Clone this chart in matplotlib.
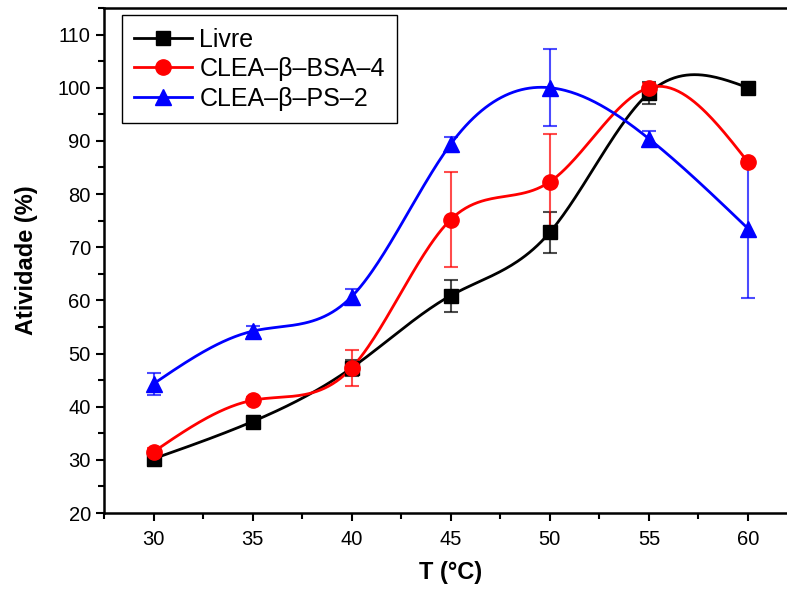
import numpy as np
import matplotlib
matplotlib.use("Agg")
import matplotlib.pyplot as plt
from matplotlib.ticker import MultipleLocator

plt.rcParams['font.family'] = ['Liberation Sans', 'DejaVu Sans']

# dados
temp = [30, 35, 40, 45, 50, 55, 60]
livre = [30.2, 37.2, 47.3, 60.9, 72.8, 99.0, 100.0]
livre_err = [1.3, 1.1, 1.5, 3.0, 3.9, 2.0, 0.5]
bsa = [31.5, 41.2, 47.3, 75.2, 82.3, 100.0, 86.0]
bsa_err = [0.8, 0.6, 3.4, 9.0, 9.0, 0.8, 0.5]
ps = [44.3, 54.2, 60.7, 89.4, 100.0, 90.4, 73.5]
ps_err = [2.1, 1.0, 1.5, 1.4, 7.2, 1.5, 13.1]

labels = ['Livre', 'CLEA\u2013\u03b2\u2013BSA\u20134', 'CLEA\u2013\u03b2\u2013PS\u20132']
colors = ['black', '#ff0000', '#0000ff']
markers = ['s', 'o', '^']
msizes = [10, 11, 12]


# spline cubica natural so para desenhar a linha de ligacao
def natural_spline(x, y, n=300):
    x = np.asarray(x, float)
    y = np.asarray(y, float)
    k = len(x)
    h = np.diff(x)
    A = np.zeros((k, k))
    b = np.zeros(k)
    A[0, 0] = A[-1, -1] = 1
    for i in range(1, k - 1):
        A[i, i - 1] = h[i - 1]
        A[i, i] = 2 * (h[i - 1] + h[i])
        A[i, i + 1] = h[i]
        b[i] = 6 * ((y[i + 1] - y[i]) / h[i] - (y[i] - y[i - 1]) / h[i - 1])
    M = np.linalg.solve(A, b)
    xs = np.linspace(x[0], x[-1], n)
    j = np.clip(np.searchsorted(x, xs) - 1, 0, k - 2)
    t0 = x[j + 1] - xs
    t1 = xs - x[j]
    hj = h[j]
    ys = (M[j] * t0 ** 3 + M[j + 1] * t1 ** 3) / (6 * hj) \
        + (y[j] / hj - M[j] * hj / 6) * t0 + (y[j + 1] / hj - M[j + 1] * hj / 6) * t1
    return xs, ys


fig = plt.figure(figsize=(7.87, 5.90), dpi=100)
ax = fig.add_axes([0.1321, 0.1305, 0.8813, 0.856])

series = [(livre, livre_err), (bsa, bsa_err), (ps, ps_err)]
for (vals, errs), lab, c, m, ms in zip(series, labels, colors, markers, msizes):
    ax.errorbar(temp, vals, yerr=errs, fmt='none', ecolor=c, alpha=0.7,
                elinewidth=1.5, capsize=5, capthick=1.5, zorder=2)
    xs, ys = natural_spline(temp, vals)
    ax.plot(xs, ys, color=c, lw=2, zorder=3)
    ax.plot(temp, vals, linestyle='none', marker=m, ms=ms, color=c, zorder=4)
    ax.plot([], [], color=c, lw=2, marker=m, ms=ms, label=lab)

ax.set_xlim(27.5, 62.5)
ax.set_ylim(20, 115)
ax.xaxis.set_major_locator(MultipleLocator(5))
ax.xaxis.set_minor_locator(MultipleLocator(2.5))
ax.yaxis.set_major_locator(MultipleLocator(10))
ax.yaxis.set_minor_locator(MultipleLocator(5))
ax.tick_params(which='both', direction='out', width=1.5, labelsize=14.5,
               top=False, right=False)
ax.tick_params(which='major', length=6)
ax.tick_params(which='minor', length=4)
ax.tick_params(axis='x', pad=6)
for s in ax.spines.values():
    s.set_linewidth(1.8)
ax.spines['right'].set_visible(False)

ax.set_xlabel('T (\u00b0C)', fontsize=17, fontweight='bold', labelpad=9)
ax.set_ylabel('Atividade (%)', fontsize=17, fontweight='bold', labelpad=14)

leg = ax.legend(loc='upper left', bbox_to_anchor=(0.026, 0.986), borderaxespad=0,
                fontsize=18, frameon=True, fancybox=False, edgecolor='black',
                framealpha=1, handlelength=2.3, labelspacing=0.22, borderpad=0.5,
                handletextpad=0.3)
leg.get_frame().set_linewidth(1)

fig.savefig('out.png', dpi=100)
